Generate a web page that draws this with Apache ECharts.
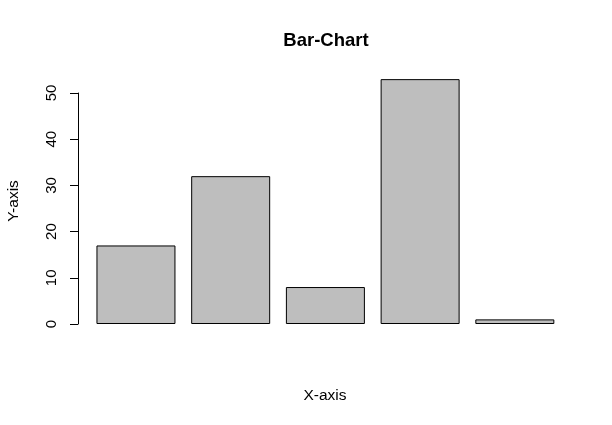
<!DOCTYPE html>
<html>
<head>
<meta charset="utf-8">
<script src="https://cdn.jsdelivr.net/npm/echarts@6/dist/echarts.min.js"></script>
<style>html,body{margin:0;padding:0;background:#fff}#c{width:612px;height:425px}</style>
</head>
<body>
<div id="c"></div>
<script>
var categories = ['A', 'B', 'C', 'D', 'E'];
var values = [17, 32, 8, 53, 1];
var yTicks = [0, 10, 20, 30, 40, 50];
var titleText = 'Bar-Chart';
var xName = 'X-axis';
var yName = 'Y-axis';

var chart = echarts.init(document.getElementById('c'), null, {renderer: 'canvas'});
var font = 'Liberation Sans, Arial, sans-serif';
chart.setOption({
  animation: false,
  backgroundColor: '#ffffff',
  grid: {left: 88.6, right: 49.8, top: 93, bottom: 101, containLabel: false},
  xAxis: {
    type: 'category', data: categories,
    axisLine: {show: false}, axisTick: {show: false}, axisLabel: {show: false},
    splitLine: {show: false}
  },
  yAxis: {
    type: 'value', min: yTicks[0], max: yTicks[yTicks.length - 1], interval: 10,
    offset: 10.6,
    axisLine: {show: true, lineStyle: {color: '#000', width: 1}},
    axisTick: {show: true, length: 8, lineStyle: {color: '#000', width: 1}},
    axisLabel: {rotate: 90, margin: 19, color: '#000', fontSize: 15, fontFamily: font},
    splitLine: {show: false}
  },
  series: [{
    type: 'bar', data: values, barWidth: 79, clip: false,
    itemStyle: {color: '#bebebe', borderColor: '#000', borderWidth: 1}
  }],
  graphic: [
    {type: 'text', x: 326, y: 41, style: {text: titleText, font: 'bold 18.5px ' + font, fill: '#000', textAlign: 'center', textVerticalAlign: 'middle'}},
    {type: 'text', x: 325, y: 396, style: {text: xName, font: '15.5px ' + font, fill: '#000', textAlign: 'center', textVerticalAlign: 'middle'}},
    {type: 'text', x: 14, y: 201, rotation: Math.PI / 2, style: {text: yName, font: '15.5px ' + font, fill: '#000', textAlign: 'center', textVerticalAlign: 'middle'}}
  ]
});
</script>
</body>
</html>
